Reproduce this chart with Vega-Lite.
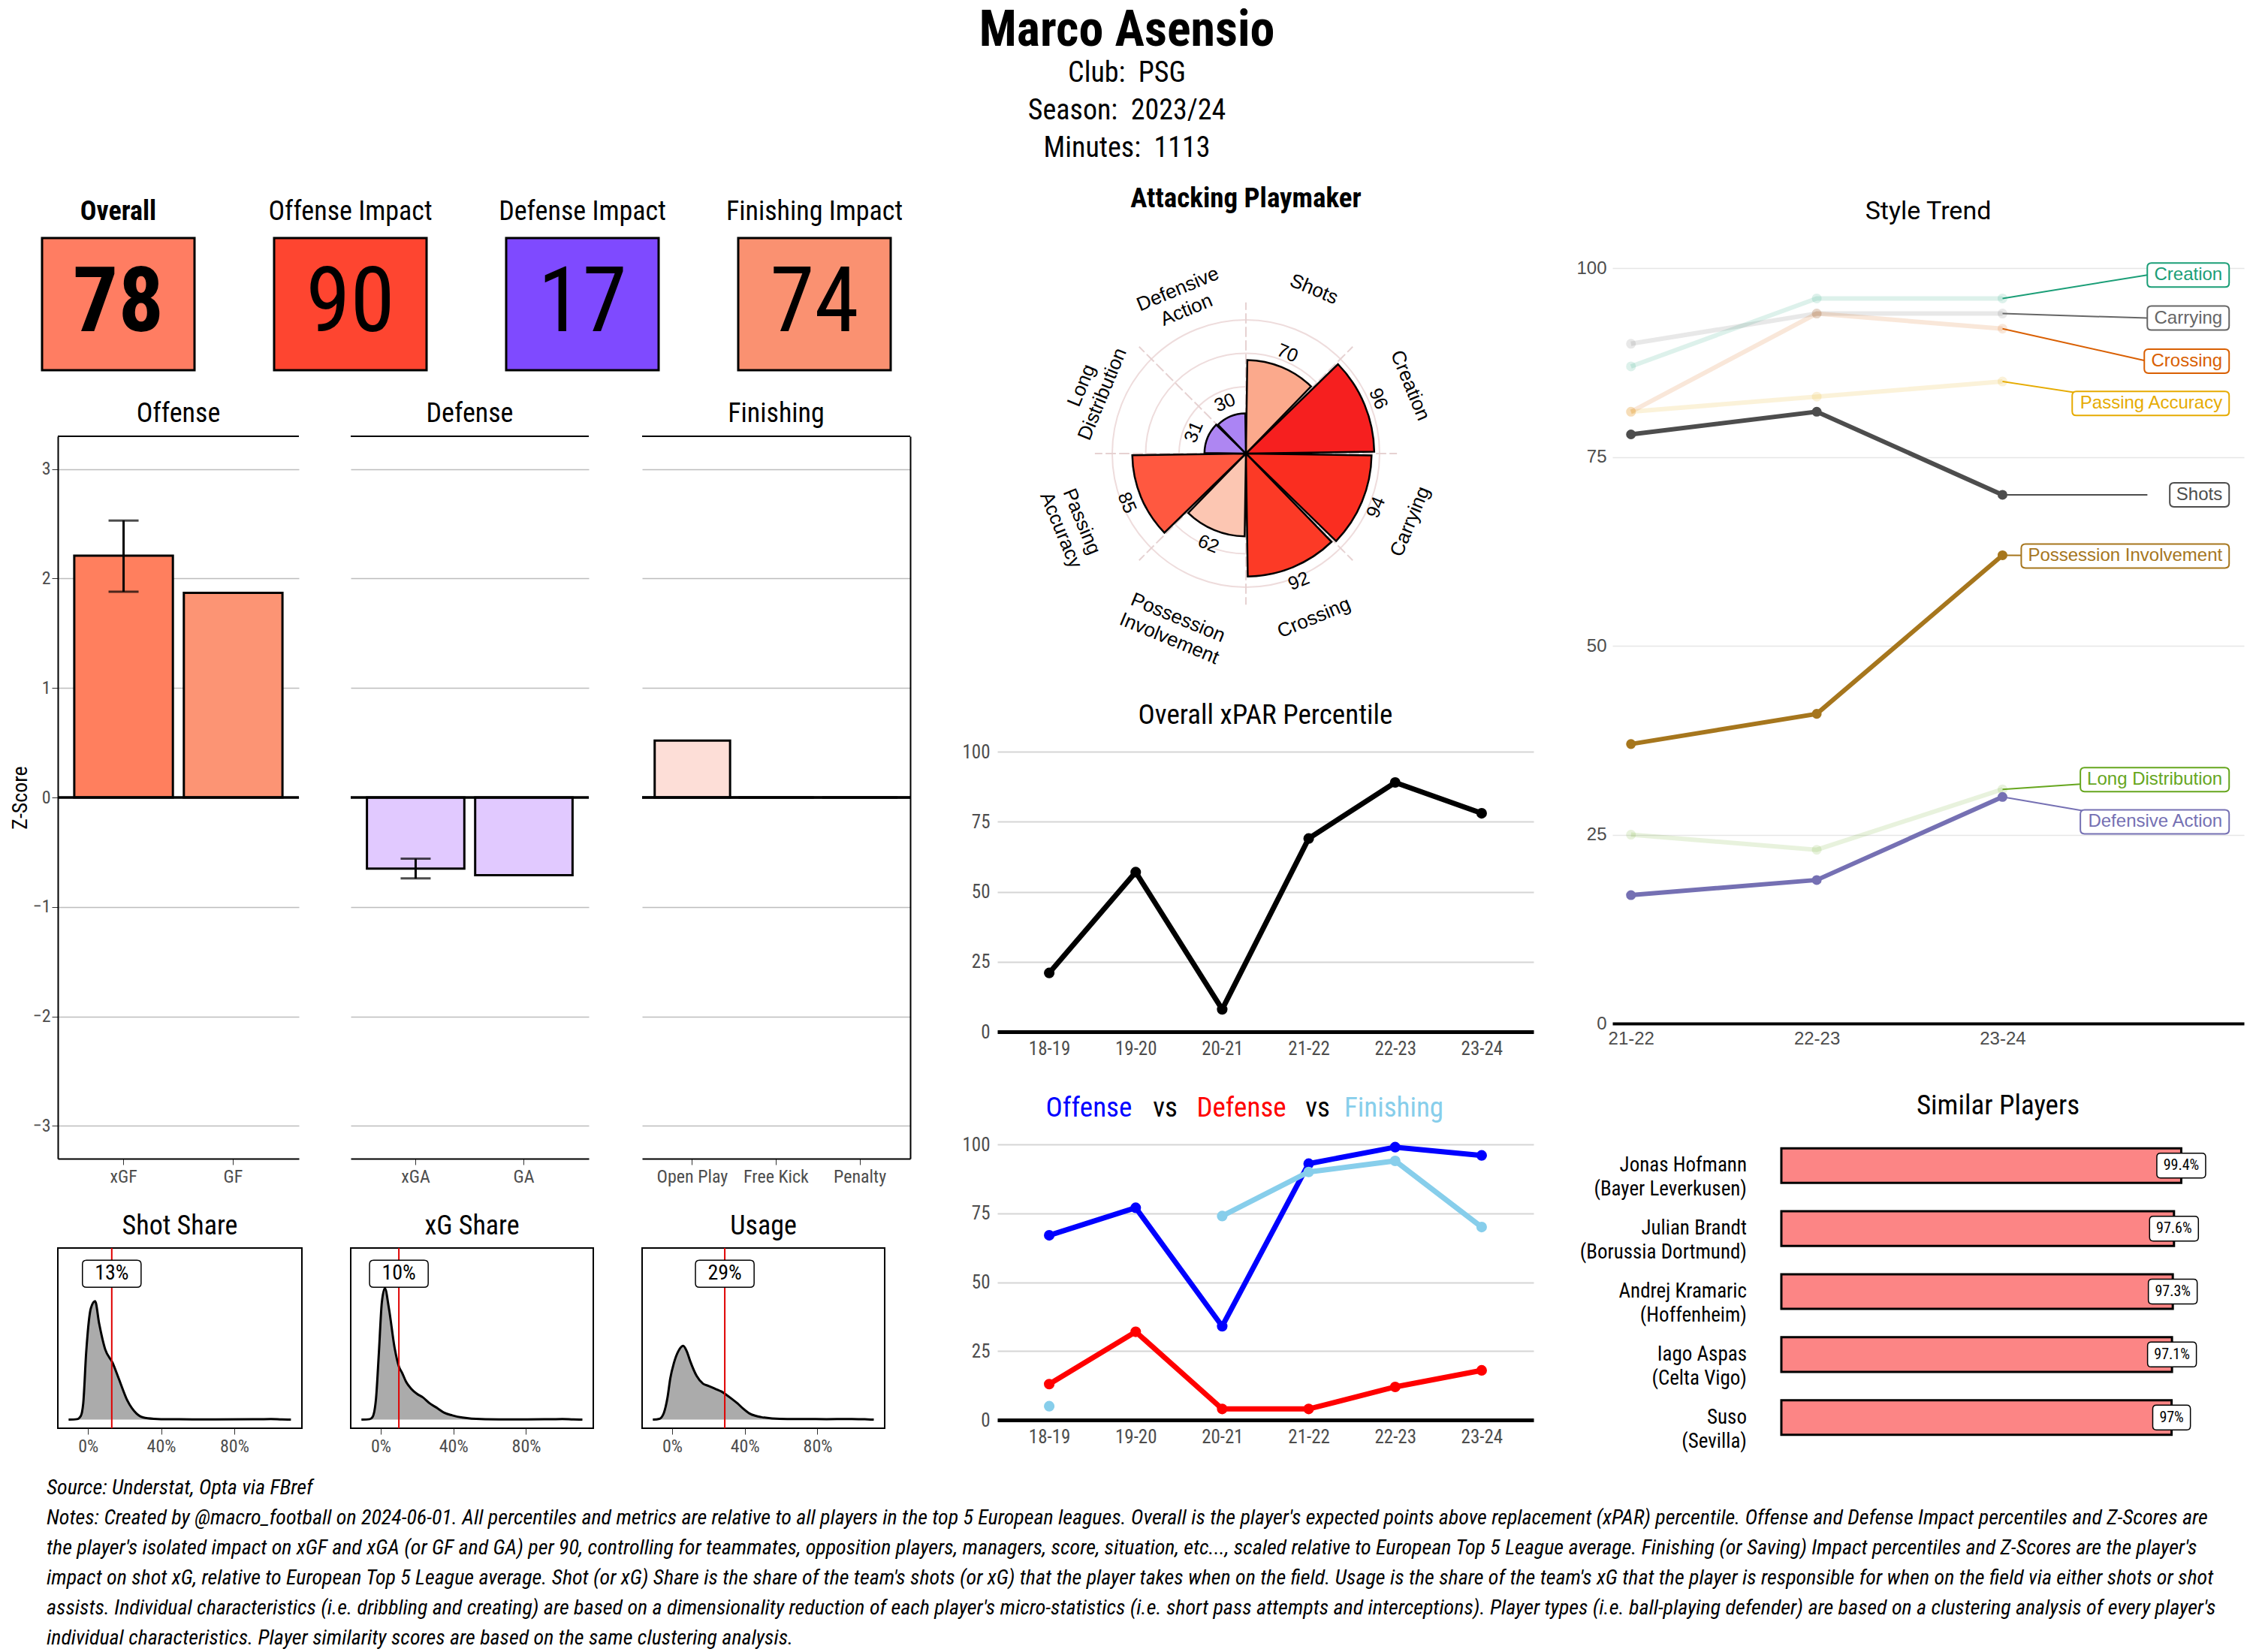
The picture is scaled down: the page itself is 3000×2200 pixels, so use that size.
{
  "$schema": "https://vega.github.io/schema/vega-lite/v6.json",
  "background": "white",
  "padding": {"left": 13, "top": 8, "right": 4, "bottom": 0},
  "title": {
    "text": "Marco Asensio",
    "subtitle": ["Club: \u00a0PSG", "Season: \u00a02023/24", "Minutes: \u00a01113"],
    "anchor": "middle", "fontSize": 66, "fontWeight": "bold", "color": "black",
    "subtitleFontSize": 38, "subtitleColor": "black", "subtitleLineHeight": 50, "subtitlePadding": 4,
    "offset": 28
  },
  "datasets": {
    "kpi": [
      {"metric": "Overall", "value": 78},
      {"metric": "Offense Impact", "value": 90},
      {"metric": "Defense Impact", "value": 17},
      {"metric": "Finishing Impact", "value": 74}
    ],
    "zs": [
      {"panel": "Offense", "metric": "xGF", "z": 2.21, "lo": 1.88, "hi": 2.53},
      {"panel": "Offense", "metric": "GF", "z": 1.87},
      {"panel": "Defense", "metric": "xGA", "z": -0.65, "lo": -0.74, "hi": -0.56},
      {"panel": "Defense", "metric": "GA", "z": -0.71},
      {"panel": "Finishing", "metric": "Open Play", "z": 0.52},
      {"panel": "Finishing", "metric": "Free Kick", "z": 0},
      {"panel": "Finishing", "metric": "Penalty", "z": 0}
    ],
    "dens": [
      {"panel": "Shot Share", "x": -0.106, "d": 0}, {"panel": "Shot Share", "x": -0.06, "d": 0.3}, {"panel": "Shot Share", "x": -0.04, "d": 2},
      {"panel": "Shot Share", "x": -0.026, "d": 9.5}, {"panel": "Shot Share", "x": -0.01, "d": 39}, {"panel": "Shot Share", "x": 0.016, "d": 65},
      {"panel": "Shot Share", "x": 0.039, "d": 69}, {"panel": "Shot Share", "x": 0.061, "d": 56}, {"panel": "Shot Share", "x": 0.094, "d": 41},
      {"panel": "Shot Share", "x": 0.135, "d": 33}, {"panel": "Shot Share", "x": 0.168, "d": 24}, {"panel": "Shot Share", "x": 0.216, "d": 11},
      {"panel": "Shot Share", "x": 0.265, "d": 3.6}, {"panel": "Shot Share", "x": 0.313, "d": 1}, {"panel": "Shot Share", "x": 0.38, "d": 0.4},
      {"panel": "Shot Share", "x": 0.5, "d": 0.2}, {"panel": "Shot Share", "x": 0.7, "d": 0.1}, {"panel": "Shot Share", "x": 0.9, "d": 0.2},
      {"panel": "Shot Share", "x": 1.0, "d": 0.4}, {"panel": "Shot Share", "x": 1.06, "d": 0.1}, {"panel": "Shot Share", "x": 1.11, "d": 0},
      {"panel": "xG Share", "x": -0.106, "d": 0}, {"panel": "xG Share", "x": -0.06, "d": 0.3}, {"panel": "xG Share", "x": -0.045, "d": 1.5},
      {"panel": "xG Share", "x": -0.026, "d": 12}, {"panel": "xG Share", "x": -0.01, "d": 39}, {"panel": "xG Share", "x": 0.006, "d": 68},
      {"panel": "xG Share", "x": 0.023, "d": 76.6}, {"panel": "xG Share", "x": 0.045, "d": 65}, {"panel": "xG Share", "x": 0.077, "d": 41.6},
      {"panel": "xG Share", "x": 0.1, "d": 31}, {"panel": "xG Share", "x": 0.119, "d": 27}, {"panel": "xG Share", "x": 0.14, "d": 22},
      {"panel": "xG Share", "x": 0.168, "d": 18}, {"panel": "xG Share", "x": 0.2, "d": 15}, {"panel": "xG Share", "x": 0.232, "d": 13},
      {"panel": "xG Share", "x": 0.27, "d": 9.5}, {"panel": "xG Share", "x": 0.313, "d": 6.6}, {"panel": "xG Share", "x": 0.35, "d": 4},
      {"panel": "xG Share", "x": 0.394, "d": 2.5}, {"panel": "xG Share", "x": 0.45, "d": 1.2}, {"panel": "xG Share", "x": 0.5, "d": 0.6},
      {"panel": "xG Share", "x": 0.65, "d": 0.1}, {"panel": "xG Share", "x": 0.9, "d": 0.2}, {"panel": "xG Share", "x": 1.0, "d": 0.4},
      {"panel": "xG Share", "x": 1.06, "d": 0.1}, {"panel": "xG Share", "x": 1.11, "d": 0},
      {"panel": "Usage", "x": -0.106, "d": 0}, {"panel": "Usage", "x": -0.07, "d": 0.5}, {"panel": "Usage", "x": -0.045, "d": 4},
      {"panel": "Usage", "x": -0.025, "d": 13}, {"panel": "Usage", "x": -0.01, "d": 24}, {"panel": "Usage", "x": 0.01, "d": 33},
      {"panel": "Usage", "x": 0.035, "d": 40}, {"panel": "Usage", "x": 0.061, "d": 43}, {"panel": "Usage", "x": 0.08, "d": 40},
      {"panel": "Usage", "x": 0.1, "d": 34}, {"panel": "Usage", "x": 0.135, "d": 25.5}, {"panel": "Usage", "x": 0.17, "d": 21},
      {"panel": "Usage", "x": 0.2, "d": 19.7}, {"panel": "Usage", "x": 0.248, "d": 17.5}, {"panel": "Usage", "x": 0.27, "d": 16.5},
      {"panel": "Usage", "x": 0.297, "d": 14.6}, {"panel": "Usage", "x": 0.33, "d": 12}, {"panel": "Usage", "x": 0.36, "d": 9.5},
      {"panel": "Usage", "x": 0.39, "d": 6.5}, {"panel": "Usage", "x": 0.426, "d": 3.6}, {"panel": "Usage", "x": 0.46, "d": 2.2},
      {"panel": "Usage", "x": 0.49, "d": 1.5}, {"panel": "Usage", "x": 0.55, "d": 0.7}, {"panel": "Usage", "x": 0.635, "d": 0.4},
      {"panel": "Usage", "x": 0.73, "d": 0.4}, {"panel": "Usage", "x": 0.85, "d": 0.3}, {"panel": "Usage", "x": 0.99, "d": 0.4},
      {"panel": "Usage", "x": 1.06, "d": 0.2}, {"panel": "Usage", "x": 1.11, "d": 0}
    ],
    "share": [
      {"panel": "Shot Share", "val": 0.13, "label": "13%"},
      {"panel": "xG Share", "val": 0.10, "label": "10%"},
      {"panel": "Usage", "val": 0.29, "label": "29%"}
    ],
    "polar": [
      {"idx": 0, "cat": "Shots", "label": "Shots", "value": 70, "w": 1},
      {"idx": 1, "cat": "Creation", "label": "Creation", "value": 96, "w": 1},
      {"idx": 2, "cat": "Carrying", "label": "Carrying", "value": 94, "w": 1},
      {"idx": 3, "cat": "Crossing", "label": "Crossing", "value": 92, "w": 1},
      {"idx": 4, "cat": "Possession Involvement", "label": "Possession\nInvolvement", "value": 62, "w": 1},
      {"idx": 5, "cat": "Passing Accuracy", "label": "Passing\nAccuracy", "value": 85, "w": 1},
      {"idx": 6, "cat": "Long Distribution", "label": "Long\nDistribution", "value": 31, "w": 1},
      {"idx": 7, "cat": "Defensive Action", "label": "Defensive\nAction", "value": 30, "w": 1}
    ],
    "rings": [{"r": 25}, {"r": 50}, {"r": 75}, {"r": 100}],
    "spokes": [{"s": 0}, {"s": 1}, {"s": 2}, {"s": 3}, {"s": 4}, {"s": 5}, {"s": 6}, {"s": 7}],
    "xpar": [
      {"season": "18-19", "value": 21}, {"season": "19-20", "value": 57}, {"season": "20-21", "value": 8},
      {"season": "21-22", "value": 69}, {"season": "22-23", "value": 89}, {"season": "23-24", "value": 78}
    ],
    "ovd": [
      {"series": "Offense", "seg": 1, "season": "18-19", "value": 67}, {"series": "Offense", "seg": 1, "season": "19-20", "value": 77},
      {"series": "Offense", "seg": 1, "season": "20-21", "value": 34}, {"series": "Offense", "seg": 1, "season": "21-22", "value": 93},
      {"series": "Offense", "seg": 1, "season": "22-23", "value": 99}, {"series": "Offense", "seg": 1, "season": "23-24", "value": 96},
      {"series": "Defense", "seg": 1, "season": "18-19", "value": 13}, {"series": "Defense", "seg": 1, "season": "19-20", "value": 32},
      {"series": "Defense", "seg": 1, "season": "20-21", "value": 4}, {"series": "Defense", "seg": 1, "season": "21-22", "value": 4},
      {"series": "Defense", "seg": 1, "season": "22-23", "value": 12}, {"series": "Defense", "seg": 1, "season": "23-24", "value": 18},
      {"series": "Finishing", "seg": 1, "season": "18-19", "value": 5},
      {"series": "Finishing", "seg": 2, "season": "20-21", "value": 74}, {"series": "Finishing", "seg": 2, "season": "21-22", "value": 90},
      {"series": "Finishing", "seg": 2, "season": "22-23", "value": 94}, {"series": "Finishing", "seg": 2, "season": "23-24", "value": 70}
    ],
    "ovdtitle": [
      {"k": "Offense", "word": "Offense"}, {"k": "vs1", "word": "vs"}, {"k": "Defense", "word": "Defense"},
      {"k": "vs2", "word": "vs"}, {"k": "Finishing", "word": "Finishing"}
    ],
    "style": [
      {"metric": "Creation", "year": 2021, "value": 87}, {"metric": "Creation", "year": 2022, "value": 96}, {"metric": "Creation", "year": 2023, "value": 96},
      {"metric": "Carrying", "year": 2021, "value": 90}, {"metric": "Carrying", "year": 2022, "value": 94}, {"metric": "Carrying", "year": 2023, "value": 94},
      {"metric": "Crossing", "year": 2021, "value": 81}, {"metric": "Crossing", "year": 2022, "value": 94}, {"metric": "Crossing", "year": 2023, "value": 92},
      {"metric": "Passing Accuracy", "year": 2021, "value": 81}, {"metric": "Passing Accuracy", "year": 2022, "value": 83}, {"metric": "Passing Accuracy", "year": 2023, "value": 85},
      {"metric": "Shots", "year": 2021, "value": 78}, {"metric": "Shots", "year": 2022, "value": 81}, {"metric": "Shots", "year": 2023, "value": 70},
      {"metric": "Possession Involvement", "year": 2021, "value": 37}, {"metric": "Possession Involvement", "year": 2022, "value": 41}, {"metric": "Possession Involvement", "year": 2023, "value": 62},
      {"metric": "Long Distribution", "year": 2021, "value": 25}, {"metric": "Long Distribution", "year": 2022, "value": 23}, {"metric": "Long Distribution", "year": 2023, "value": 31},
      {"metric": "Defensive Action", "year": 2021, "value": 17}, {"metric": "Defensive Action", "year": 2022, "value": 19}, {"metric": "Defensive Action", "year": 2023, "value": 30}
    ],
    "stylelab": [
      {"metric": "Creation", "last": 96, "labelY": 99.1},
      {"metric": "Carrying", "last": 94, "labelY": 93.4},
      {"metric": "Crossing", "last": 92, "labelY": 87.7},
      {"metric": "Passing Accuracy", "last": 85, "labelY": 82.1},
      {"metric": "Shots", "last": 70, "labelY": 70},
      {"metric": "Possession Involvement", "last": 62, "labelY": 61.9},
      {"metric": "Long Distribution", "last": 31, "labelY": 32.3},
      {"metric": "Defensive Action", "last": 30, "labelY": 26.7}
    ],
    "similar": [
      {"name": "Jonas Hofmann\n(Bayer Leverkusen)", "sim": 99.4, "lbl": "99.4%"},
      {"name": "Julian Brandt\n(Borussia Dortmund)", "sim": 97.6, "lbl": "97.6%"},
      {"name": "Andrej Kramaric\n(Hoffenheim)", "sim": 97.3, "lbl": "97.3%"},
      {"name": "Iago Aspas\n(Celta Vigo)", "sim": 97.1, "lbl": "97.1%"},
      {"name": "Suso\n(Sevilla)", "sim": 97, "lbl": "97%"}
    ],
    "notes": [
      {"i": 0, "t": "Source: Understat, Opta via FBref"},
      {"i": 1, "t": "Notes: Created by @macro_football on 2024-06-01. All percentiles and metrics are relative to all players in the top 5 European leagues. Overall is the player's expected points above replacement (xPAR) percentile. Offense and Defense Impact percentiles and Z-Scores are"},
      {"i": 2, "t": "the player's isolated impact on xGF and xGA (or GF and GA) per 90, controlling for teammates, opposition players, managers, score, situation, etc..., scaled relative to European Top 5 League average. Finishing (or Saving) Impact percentiles and Z-Scores are the player's"},
      {"i": 3, "t": "impact on shot xG, relative to European Top 5 League average. Shot (or xG) Share is the share of the team's shots (or xG) that the player takes when on the field. Usage is the share of the team's xG that the player is responsible for when on the field via either shots or shot"},
      {"i": 4, "t": "assists. Individual characteristics (i.e. dribbling and creating) are based on a dimensionality reduction of each player's micro-statistics (i.e. short pass attempts and interceptions). Player types (i.e. ball-playing defender) are based on a clustering analysis of every player's"},
      {"i": 5, "t": "individual characteristics. Player similarity scores are based on the same clustering analysis."}
    ]
  },
  "concat": [
    {
      "concat": [
        {
          "concat": [
            {
              "width": 1147, "height": 176,
              "data": {"name": "kpi"},
              "layer": [
                {
                  "mark": {"type": "rect", "stroke": "black", "strokeWidth": 3},
                  "encoding": {
                    "x": {"field": "metric", "type": "nominal", "sort": null,
                      "scale": {"range": [-21, 1109], "paddingInner": 0.343, "paddingOuter": 0},
                      "axis": {"orient": "top", "title": null, "domain": false, "ticks": false, "labelAngle": 0, "labelFontSize": 36, "labelColor": "black", "labelPadding": 17, "labelLimit": 0,
                        "labelFontWeight": {"condition": {"test": "datum.value === 'Overall'", "value": "bold"}, "value": "normal"}}},
                    "color": {"field": "metric", "type": "nominal", "scale": {"domain": ["Overall", "Offense Impact", "Defense Impact", "Finishing Impact"], "range": ["#FF7D62", "#FE4530", "#7F4AFF", "#FA9171"]}, "legend": null}
                  }
                },
                {
                  "transform": [{"filter": "datum.metric === 'Overall'"}],
                  "mark": {"type": "text", "fontSize": 120, "fontWeight": "bold", "color": "black"},
                  "encoding": {"x": {"field": "metric", "type": "nominal", "sort": null}, "text": {"field": "value"}}
                },
                {
                  "transform": [{"filter": "datum.metric !== 'Overall'"}],
                  "mark": {"type": "text", "fontSize": 120, "color": "black"},
                  "encoding": {"x": {"field": "metric", "type": "nominal", "sort": null}, "text": {"field": "value"}}
                }
              ]
            },
            {
              "columns": 3,
              "align": "each",
              "spacing": {"row": 35, "column": 62},
              "resolve": {"scale": {"color": "independent"}},
              "concat": [
                {
                  "width": 321, "height": 962,
                  "title": {"text": "Offense", "offset": 10},
                  "data": {"name": "zs"},
                  "transform": [{"filter": "datum.panel === 'Offense'"}],
                  "layer": [
                    {
                      "mark": {"type": "bar", "stroke": "black", "strokeWidth": 3},
                      "encoding": {
                        "x": {"field": "metric", "type": "nominal", "sort": null, "scale": {"paddingInner": 0.1, "paddingOuter": 0.15},
                          "axis": {"title": null, "labelAngle": 0, "labelFontSize": 24, "tickSize": 8, "domainWidth": 2, "labelPadding": 4}},
                        "y": {"field": "z", "type": "quantitative", "scale": {"domain": [-3.3, 3.3], "nice": false},
                          "axis": {"values": [-3, -2, -1, 0, 1, 2, 3], "format": "d", "title": "Z-Score", "titleFontSize": 28, "titlePadding": 2, "labelFontSize": 24, "tickSize": 8, "domainWidth": 2, "grid": true, "gridColor": "#BDBDBD", "gridWidth": 1.5}},
                        "color": {"field": "metric", "type": "nominal", "scale": {"domain": ["xGF", "GF"], "range": ["#FF7F5E", "#FC9474"]}, "legend": null}
                      }
                    },
                    {"mark": {"type": "rule", "color": "black", "strokeWidth": 3}, "encoding": {"y": {"datum": 0}}},
                    {"mark": {"type": "rule", "color": "black", "strokeWidth": 2}, "encoding": {"y": {"datum": 3.3}}},
                    {
                      "transform": [{"filter": "isValid(datum.lo)"}],
                      "mark": {"type": "rule", "color": "black", "strokeWidth": 3},
                      "encoding": {"x": {"field": "metric", "type": "nominal", "sort": null}, "y": {"field": "lo", "type": "quantitative"}, "y2": {"field": "hi"}}
                    },
                    {
                      "transform": [{"filter": "isValid(datum.lo)"}],
                      "mark": {"type": "tick", "color": "black", "thickness": 3, "size": 40, "orient": "horizontal"},
                      "encoding": {"x": {"field": "metric", "type": "nominal", "sort": null}, "y": {"field": "lo", "type": "quantitative"}}
                    },
                    {
                      "transform": [{"filter": "isValid(datum.lo)"}],
                      "mark": {"type": "tick", "color": "black", "thickness": 3, "size": 40, "orient": "horizontal"},
                      "encoding": {"x": {"field": "metric", "type": "nominal", "sort": null}, "y": {"field": "hi", "type": "quantitative"}}
                    }
                  ]
                },
                {
                  "width": 317, "height": 962,
                  "title": {"text": "Defense", "offset": 10},
                  "data": {"name": "zs"},
                  "transform": [{"filter": "datum.panel === 'Defense'"}],
                  "layer": [
                    {
                      "mark": {"type": "bar", "stroke": "black", "strokeWidth": 3},
                      "encoding": {
                        "x": {"field": "metric", "type": "nominal", "sort": null, "scale": {"paddingInner": 0.1, "paddingOuter": 0.15},
                          "axis": {"title": null, "labelAngle": 0, "labelFontSize": 24, "tickSize": 8, "domainWidth": 2, "labelPadding": 4}},
                        "y": {"field": "z", "type": "quantitative", "scale": {"domain": [-3.3, 3.3], "nice": false},
                          "axis": {"values": [-3, -2, -1, 0, 1, 2, 3], "title": null, "labels": false, "ticks": false, "domain": false, "grid": true, "gridColor": "#BDBDBD", "gridWidth": 1.5}},
                        "color": {"field": "metric", "type": "nominal", "scale": {"domain": ["xGA", "GA"], "range": ["#E1C9FF", "#E1C9FF"]}, "legend": null}
                      }
                    },
                    {"mark": {"type": "rule", "color": "black", "strokeWidth": 3}, "encoding": {"y": {"datum": 0}}},
                    {"mark": {"type": "rule", "color": "black", "strokeWidth": 2}, "encoding": {"y": {"datum": 3.3}}},
                    {
                      "transform": [{"filter": "isValid(datum.lo)"}],
                      "mark": {"type": "rule", "color": "black", "strokeWidth": 3},
                      "encoding": {"x": {"field": "metric", "type": "nominal", "sort": null}, "y": {"field": "lo", "type": "quantitative"}, "y2": {"field": "hi"}}
                    },
                    {
                      "transform": [{"filter": "isValid(datum.lo)"}],
                      "mark": {"type": "tick", "color": "black", "thickness": 3, "size": 40, "orient": "horizontal"},
                      "encoding": {"x": {"field": "metric", "type": "nominal", "sort": null}, "y": {"field": "lo", "type": "quantitative"}}
                    },
                    {
                      "transform": [{"filter": "isValid(datum.lo)"}],
                      "mark": {"type": "tick", "color": "black", "thickness": 3, "size": 40, "orient": "horizontal"},
                      "encoding": {"x": {"field": "metric", "type": "nominal", "sort": null}, "y": {"field": "hi", "type": "quantitative"}}
                    }
                  ]
                },
                {
                  "width": 357, "height": 962,
                  "title": {"text": "Finishing", "offset": 10},
                  "data": {"name": "zs"},
                  "transform": [{"filter": "datum.panel === 'Finishing'"}],
                  "layer": [
                    {
                      "mark": {"type": "bar", "stroke": "black", "strokeWidth": 3},
                      "encoding": {
                        "x": {"field": "metric", "type": "nominal", "sort": null, "scale": {"paddingInner": 0.1, "paddingOuter": 0.15},
                          "axis": {"title": null, "labelAngle": 0, "labelFontSize": 24, "tickSize": 8, "domainWidth": 2, "labelPadding": 4}},
                        "y": {"field": "z", "type": "quantitative", "scale": {"domain": [-3.3, 3.3], "nice": false},
                          "axis": {"orient": "right", "values": [-3, -2, -1, 0, 1, 2, 3], "title": null, "labels": false, "ticks": false, "domain": true, "domainWidth": 2, "grid": true, "gridColor": "#BDBDBD", "gridWidth": 1.5}},
                        "color": {"field": "metric", "type": "nominal", "scale": {"domain": ["Open Play", "Free Kick", "Penalty"], "range": ["#FDDED7", "#FDDED7", "#FDDED7"]}, "legend": null}
                      }
                    },
                    {"mark": {"type": "rule", "color": "black", "strokeWidth": 3}, "encoding": {"y": {"datum": 0}}},
                    {"mark": {"type": "rule", "color": "black", "strokeWidth": 2}, "encoding": {"y": {"datum": 3.3}}}
                  ]
                },
                {
                  "width": 325, "height": 240,
                  "title": {"text": "Shot Share", "offset": 9},
                  "view": {"stroke": "black", "strokeWidth": 2},
                  "layer": [
                    {
                      "data": {"name": "dens"},
                      "transform": [{"filter": "datum.panel === 'Shot Share'"}],
                      "mark": {"type": "area", "color": "#ABABAB", "opacity": 1, "interpolate": "monotone", "line": {"color": "black", "strokeWidth": 3}},
                      "encoding": {
                        "x": {"field": "x", "type": "quantitative", "scale": {"domain": [-0.165, 1.17], "nice": false, "zero": false},
                          "axis": {"values": [0, 0.4, 0.8], "format": ".0%", "title": null, "grid": false, "domain": false, "labelFontSize": 24, "tickSize": 8, "labelPadding": 4}},
                        "y": {"field": "d", "type": "quantitative", "scale": {"domain": [-5, 100], "nice": false}, "axis": null}
                      }
                    },
                    {
                      "data": {"name": "share"},
                      "transform": [{"filter": "datum.panel === 'Shot Share'"}],
                      "layer": [
                        {"mark": {"type": "rule", "color": "#E00000", "strokeWidth": 2}, "encoding": {"x": {"field": "val", "type": "quantitative"}}},
                        {"mark": {"type": "point", "shape": "M-1.87,-1L1.87,-1Q2.17,-1 2.17,-0.7L2.17,0.7Q2.17,1 1.87,1L-1.87,1Q-2.17,1 -2.17,0.7L-2.17,-0.7Q-2.17,-1 -1.87,-1Z", "size": 1296, "filled": true, "fill": "white", "stroke": "black", "strokeWidth": 1.5, "opacity": 1},
                          "encoding": {"x": {"field": "val", "type": "quantitative"}, "y": {"datum": 85}}},
                        {"mark": {"type": "text", "fontSize": 28, "color": "black"}, "encoding": {"x": {"field": "val", "type": "quantitative"}, "y": {"datum": 85}, "text": {"field": "label"}}}
                      ]
                    }
                  ]
                },
                {
                  "width": 323, "height": 240,
                  "title": {"text": "xG Share", "offset": 9},
                  "view": {"stroke": "black", "strokeWidth": 2},
                  "layer": [
                    {
                      "data": {"name": "dens"},
                      "transform": [{"filter": "datum.panel === 'xG Share'"}],
                      "mark": {"type": "area", "color": "#ABABAB", "opacity": 1, "interpolate": "monotone", "line": {"color": "black", "strokeWidth": 3}},
                      "encoding": {
                        "x": {"field": "x", "type": "quantitative", "scale": {"domain": [-0.165, 1.17], "nice": false, "zero": false},
                          "axis": {"values": [0, 0.4, 0.8], "format": ".0%", "title": null, "grid": false, "domain": false, "labelFontSize": 24, "tickSize": 8, "labelPadding": 4}},
                        "y": {"field": "d", "type": "quantitative", "scale": {"domain": [-5, 100], "nice": false}, "axis": null}
                      }
                    },
                    {
                      "data": {"name": "share"},
                      "transform": [{"filter": "datum.panel === 'xG Share'"}],
                      "layer": [
                        {"mark": {"type": "rule", "color": "#E00000", "strokeWidth": 2}, "encoding": {"x": {"field": "val", "type": "quantitative"}}},
                        {"mark": {"type": "point", "shape": "M-1.87,-1L1.87,-1Q2.17,-1 2.17,-0.7L2.17,0.7Q2.17,1 1.87,1L-1.87,1Q-2.17,1 -2.17,0.7L-2.17,-0.7Q-2.17,-1 -1.87,-1Z", "size": 1296, "filled": true, "fill": "white", "stroke": "black", "strokeWidth": 1.5, "opacity": 1},
                          "encoding": {"x": {"field": "val", "type": "quantitative"}, "y": {"datum": 85}}},
                        {"mark": {"type": "text", "fontSize": 28, "color": "black"}, "encoding": {"x": {"field": "val", "type": "quantitative"}, "y": {"datum": 85}, "text": {"field": "label"}}}
                      ]
                    }
                  ]
                },
                {
                  "width": 323, "height": 240,
                  "title": {"text": "Usage", "offset": 9},
                  "view": {"stroke": "black", "strokeWidth": 2},
                  "layer": [
                    {
                      "data": {"name": "dens"},
                      "transform": [{"filter": "datum.panel === 'Usage'"}],
                      "mark": {"type": "area", "color": "#ABABAB", "opacity": 1, "interpolate": "monotone", "line": {"color": "black", "strokeWidth": 3}},
                      "encoding": {
                        "x": {"field": "x", "type": "quantitative", "scale": {"domain": [-0.165, 1.17], "nice": false, "zero": false},
                          "axis": {"values": [0, 0.4, 0.8], "format": ".0%", "title": null, "grid": false, "domain": false, "labelFontSize": 24, "tickSize": 8, "labelPadding": 4}},
                        "y": {"field": "d", "type": "quantitative", "scale": {"domain": [-5, 100], "nice": false}, "axis": null}
                      }
                    },
                    {
                      "data": {"name": "share"},
                      "transform": [{"filter": "datum.panel === 'Usage'"}],
                      "layer": [
                        {"mark": {"type": "rule", "color": "#E00000", "strokeWidth": 2}, "encoding": {"x": {"field": "val", "type": "quantitative"}}},
                        {"mark": {"type": "point", "shape": "M-1.87,-1L1.87,-1Q2.17,-1 2.17,-0.7L2.17,0.7Q2.17,1 1.87,1L-1.87,1Q-2.17,1 -2.17,0.7L-2.17,-0.7Q-2.17,-1 -1.87,-1Z", "size": 1296, "filled": true, "fill": "white", "stroke": "black", "strokeWidth": 1.5, "opacity": 1},
                          "encoding": {"x": {"field": "val", "type": "quantitative"}, "y": {"datum": 85}}},
                        {"mark": {"type": "text", "fontSize": 28, "color": "black"}, "encoding": {"x": {"field": "val", "type": "quantitative"}, "y": {"datum": 85}, "text": {"field": "label"}}}
                      ]
                    }
                  ]
                }
              ]
            }
          ],
          "columns": 1,
          "spacing": 38,
          "resolve": {"scale": {"color": "independent"}}
        },
        {
          "vconcat": [
            {
              "vconcat": [
                {
                  "width": 662, "height": 574,
                  "title": {"text": "Attacking Playmaker", "fontWeight": "bold", "fontSize": 37, "offset": 33},
                  "layer": [
                    {
                      "data": {"name": "rings"},
                      "mark": {"type": "arc", "theta": 0, "theta2": 6.2832, "filled": false, "stroke": "#EEDCDC", "strokeWidth": 2},
                      "encoding": {"radius": {"field": "r", "type": "quantitative", "stack": null, "scale": {"type": "linear", "domain": [0, 100], "range": [0, 178], "nice": false, "zero": true}}}
                    },
                    {
                      "data": {"name": "spokes"},
                      "mark": {"type": "arc", "filled": false, "stroke": "#E6D2D2", "strokeWidth": 2, "strokeDash": [10, 8]},
                      "encoding": {
                        "theta": {"field": "s", "type": "quantitative", "stack": null, "scale": {"domain": [0, 8], "range": [0, 6.2832], "nice": false, "zero": true}},
                        "theta2": {"field": "s"},
                        "radius": {"datum": 113}
                      }
                    },
                    {
                      "data": {"name": "polar"},
                      "transform": [{"stack": "w", "groupby": [], "sort": [{"field": "idx", "order": "ascending"}], "as": ["w0", "w1"]}],
                      "mark": {"type": "arc", "stroke": "black", "strokeWidth": 2.5, "padAngle": 0.03},
                      "encoding": {
                        "theta": {"field": "w0", "type": "quantitative", "stack": null},
                        "theta2": {"field": "w1"},
                        "radius": {"field": "value", "type": "quantitative", "stack": null},
                        "color": {"field": "cat", "type": "nominal", "scale": {"domain": ["Shots", "Creation", "Carrying", "Crossing", "Possession Involvement", "Passing Accuracy", "Long Distribution", "Defensive Action"], "range": ["#FBA98C", "#F61F1F", "#FA2D20", "#FC3A26", "#FCC6B2", "#FF5840", "#AE86F2", "#AB84F4"]}, "legend": null}
                      }
                    },
                    {
                      "data": {"name": "polar"},
                      "transform": [{"stack": "w", "groupby": [], "sort": [{"field": "idx", "order": "ascending"}], "as": ["w0", "w1"]}],
                      "mark": {"type": "text", "font": "Liberation Sans, Arial, sans-serif", "fontSize": 25, "radiusOffset": 20, "thetaOffset": 0.3927, "color": "black"},
                      "encoding": {
                        "theta": {"field": "w0", "type": "quantitative", "stack": null},
                        "radius": {"field": "value", "type": "quantitative", "stack": null},
                        "text": {"field": "value"},
                        "angle": {"field": "cat", "type": "nominal", "scale": {"type": "ordinal", "domain": ["Shots", "Creation", "Carrying", "Crossing", "Possession Involvement", "Passing Accuracy", "Long Distribution", "Defensive Action"], "range": [22.5, 67.5, 292.5, 337.5, 22.5, 67.5, 292.5, 337.5]}, "legend": null}
                      }
                    },
                    {
                      "data": {"name": "polar"},
                      "transform": [{"stack": "w", "groupby": [], "sort": [{"field": "idx", "order": "ascending"}], "as": ["w0", "w1"]}],
                      "mark": {"type": "text", "font": "Liberation Sans, Arial, sans-serif", "fontSize": 26, "lineBreak": "\n", "lineHeight": 30, "thetaOffset": 0.3927, "color": "black"},
                      "encoding": {
                        "theta": {"field": "w0", "type": "quantitative", "stack": null},
                        "radius": {"datum": 133},
                        "text": {"field": "label"},
                        "angle": {"field": "cat", "type": "nominal", "scale": {"type": "ordinal", "domain": ["Shots", "Creation", "Carrying", "Crossing", "Possession Involvement", "Passing Accuracy", "Long Distribution", "Defensive Action"], "range": [22.5, 67.5, 292.5, 337.5, 22.5, 67.5, 292.5, 337.5]}, "legend": null}
                      }
                    }
                  ]
                },
                {
                  "width": 714, "height": 373,
                  "title": {"text": "Overall xPAR Percentile", "fontSize": 37, "offset": 17},
                  "data": {"name": "xpar"},
                  "encoding": {
                    "x": {"field": "season", "type": "ordinal", "scale": {"type": "point", "padding": 0.6},
                      "axis": {"title": null, "labelAngle": 0, "labelFontSize": 25, "ticks": false, "domainWidth": 5, "labelPadding": 10}},
                    "y": {"field": "value", "type": "quantitative", "scale": {"domain": [0, 100], "nice": false},
                      "axis": {"title": null, "values": [0, 25, 50, 75, 100], "labelFontSize": 25, "ticks": false, "domain": false, "grid": true, "gridColor": "#D5D5D5", "gridWidth": 2, "labelPadding": 10}}
                  },
                  "layer": [
                    {"mark": {"type": "line", "color": "black", "strokeWidth": 7}},
                    {"mark": {"type": "point", "filled": true, "color": "black", "size": 200, "opacity": 1}}
                  ]
                }
              ],
              "spacing": 43,
              "resolve": {"scale": {"color": "independent"}}
            },
            {
              "width": 714, "height": 367,
              "layer": [
                {
                  "data": {"name": "ovd"},
                  "encoding": {
                    "x": {"field": "season", "type": "ordinal", "scale": {"type": "point", "padding": 0.6},
                      "axis": {"title": null, "labelAngle": 0, "labelFontSize": 25, "ticks": false, "domainWidth": 5, "labelPadding": 10}},
                    "y": {"field": "value", "type": "quantitative", "scale": {"domain": [0, 100], "nice": false},
                      "axis": {"title": null, "values": [0, 25, 50, 75, 100], "labelFontSize": 25, "ticks": false, "domain": false, "grid": true, "gridColor": "#D5D5D5", "gridWidth": 2, "labelPadding": 10}},
                    "color": {"field": "series", "type": "nominal", "scale": {"domain": ["Offense", "Defense", "Finishing", "vs1", "vs2"], "range": ["#0000FF", "#FF0000", "#87CEEB", "#000000", "#000000"]}, "legend": null}
                  },
                  "layer": [
                    {"mark": {"type": "line", "strokeWidth": 7}, "encoding": {"detail": {"field": "seg"}}},
                    {"mark": {"type": "point", "filled": true, "size": 200, "opacity": 1}}
                  ]
                },
                {
                  "data": {"name": "ovdtitle"},
                  "mark": {"type": "text", "fontSize": 37},
                  "encoding": {
                    "x": {"field": "k", "type": "nominal", "scale": {"type": "point", "domain": ["padL", "Offense", "vs1", "Defense", "vs2", "Finishing", "padR"], "padding": 0.517, "align": 0.195}, "axis": null},
                    "y": {"datum": 113},
                    "text": {"field": "word"},
                    "color": {"field": "k", "type": "nominal", "legend": null}
                  }
                }
              ],
              "resolve": {"scale": {"x": "independent"}}
            }
          ],
          "spacing": 48,
          "resolve": {"scale": {"color": "independent"}}
        },
        {
          "concat": [
            {
              "width": 841, "height": 1046,
              "title": {"text": "Style Trend", "fontSize": 34, "font": "Roboto, sans-serif", "offset": 18},
              "layer": [
                {
                  "data": {"name": "style"},
                  "transform": [{"filter": "indexof(['Creation','Carrying','Crossing','Passing Accuracy','Long Distribution'], datum.metric) >= 0"}],
                  "encoding": {
                    "x": {"field": "year", "type": "quantitative", "scale": {"domain": [2020.9, 2024.3], "nice": false, "zero": false},
                      "axis": {"values": [2021, 2022, 2023], "labelExpr": "datum.value == 2021 ? '21-22' : datum.value == 2022 ? '22-23' : '23-24'", "title": null, "grid": false, "ticks": false, "domainWidth": 4, "labelFontSize": 24, "labelFont": "Liberation Sans, Arial, sans-serif", "labelPadding": 8}},
                    "y": {"field": "value", "type": "quantitative", "scale": {"domain": [0, 104], "nice": false},
                      "axis": {"values": [0, 25, 50, 75, 100], "title": null, "ticks": false, "domain": false, "grid": true, "gridColor": "#E6E6E6", "gridWidth": 1.5, "labelFontSize": 24, "labelFont": "Liberation Sans, Arial, sans-serif", "labelPadding": 8}},
                    "color": {"field": "metric", "type": "nominal", "scale": {"domain": ["Creation", "Carrying", "Crossing", "Passing Accuracy", "Shots", "Possession Involvement", "Long Distribution", "Defensive Action"], "range": ["#1B9E77", "#666666", "#D95F02", "#E6AB02", "#4D4D4D", "#A6761D", "#66A61E", "#7570B3"]}, "legend": null}
                  },
                  "layer": [
                    {"mark": {"type": "line", "strokeWidth": 6, "opacity": 0.15}},
                    {"mark": {"type": "point", "filled": true, "size": 170, "opacity": 0.15}}
                  ]
                },
                {
                  "data": {"name": "style"},
                  "transform": [{"filter": "indexof(['Creation','Carrying','Crossing','Passing Accuracy','Long Distribution'], datum.metric) < 0"}],
                  "encoding": {
                    "x": {"field": "year", "type": "quantitative"},
                    "y": {"field": "value", "type": "quantitative"},
                    "color": {"field": "metric", "type": "nominal", "legend": null}
                  },
                  "layer": [
                    {"mark": {"type": "line", "strokeWidth": 6}},
                    {"mark": {"type": "point", "filled": true, "size": 170, "opacity": 1}}
                  ]
                },
                {
                  "data": {"name": "stylelab"},
                  "layer": [
                    {
                      "mark": {"type": "rule", "strokeWidth": 2},
                      "encoding": {"x": {"datum": 2023}, "x2": {"datum": 2023.78}, "y": {"field": "last", "type": "quantitative"}, "y2": {"field": "labelY"}, "color": {"field": "metric", "type": "nominal", "legend": null}}
                    },
                    {
                      "mark": {"type": "point", "filled": true, "fill": "white", "strokeWidth": 2, "size": 1024, "opacity": 1},
                      "encoding": {
                        "x": {"datum": 2024.22}, "y": {"field": "labelY", "type": "quantitative"},
                        "shape": {"field": "metric", "type": "nominal", "scale": {"domain": ["Creation", "Carrying", "Crossing", "Passing Accuracy", "Shots", "Possession Involvement", "Long Distribution", "Defensive Action"],
                          "range": [
                            "M-6.46,-1L-0.35,-1Q0,-1 0,-0.65L0,0.65Q0,1 -0.35,1L-6.46,1Q-6.81,1 -6.81,0.65L-6.81,-0.65Q-6.81,-1 -6.46,-1Z",
                            "M-6.46,-1L-0.35,-1Q0,-1 0,-0.65L0,0.65Q0,1 -0.35,1L-6.46,1Q-6.81,1 -6.81,0.65L-6.81,-0.65Q-6.81,-1 -6.46,-1Z",
                            "M-6.71,-1L-0.35,-1Q0,-1 0,-0.65L0,0.65Q0,1 -0.35,1L-6.71,1Q-7.06,1 -7.06,0.65L-7.06,-0.65Q-7.06,-1 -6.71,-1Z",
                            "M-12.71,-1L-0.35,-1Q0,-1 0,-0.65L0,0.65Q0,1 -0.35,1L-12.71,1Q-13.06,1 -13.06,0.65L-13.06,-0.65Q-13.06,-1 -12.71,-1Z",
                            "M-4.59,-1L-0.35,-1Q0,-1 0,-0.65L0,0.65Q0,1 -0.35,1L-4.59,1Q-4.94,1 -4.94,0.65L-4.94,-0.65Q-4.94,-1 -4.59,-1Z",
                            "M-16.95,-1L-0.35,-1Q0,-1 0,-0.65L0,0.65Q0,1 -0.35,1L-16.95,1Q-17.3,1 -17.3,0.65L-17.3,-0.65Q-17.3,-1 -16.95,-1Z",
                            "M-12.03,-1L-0.35,-1Q0,-1 0,-0.65L0,0.65Q0,1 -0.35,1L-12.03,1Q-12.38,1 -12.38,0.65L-12.38,-0.65Q-12.38,-1 -12.03,-1Z",
                            "M-12.03,-1L-0.35,-1Q0,-1 0,-0.65L0,0.65Q0,1 -0.35,1L-12.03,1Q-12.38,1 -12.38,0.65L-12.38,-0.65Q-12.38,-1 -12.03,-1Z"
                          ]}, "legend": null},
                        "stroke": {"field": "metric", "type": "nominal", "scale": {"domain": ["Creation", "Carrying", "Crossing", "Passing Accuracy", "Shots", "Possession Involvement", "Long Distribution", "Defensive Action"], "range": ["#1B9E77", "#666666", "#D95F02", "#E6AB02", "#4D4D4D", "#A6761D", "#66A61E", "#7570B3"]}, "legend": null}
                      }
                    },
                    {
                      "mark": {"type": "text", "align": "right", "dx": -9, "font": "Liberation Sans, Arial, sans-serif", "fontSize": 24},
                      "encoding": {"x": {"datum": 2024.22}, "y": {"field": "labelY", "type": "quantitative"}, "text": {"field": "metric"}, "color": {"field": "metric", "type": "nominal", "legend": null}}
                    }
                  ]
                }
              ]
            },
            {
              "width": 841, "height": 436,
              "title": {"text": "Similar Players", "fontSize": 37, "offset": 10, "dx": 93},
              "data": {"name": "similar"},
              "encoding": {"y": {"field": "name", "type": "nominal", "sort": null, "scale": {"paddingInner": 0.45, "paddingOuter": 0.325}, "axis": null}},
              "layer": [
                {"mark": {"type": "bar", "color": "#FC8585", "stroke": "black", "strokeWidth": 3},
                  "encoding": {"x": {"field": "sim", "type": "quantitative", "scale": {"domain": [-42, 115], "nice": false}, "axis": null}}},
                {"mark": {"type": "point", "filled": true, "fill": "white", "stroke": "black", "strokeWidth": 1.5, "size": 1089, "opacity": 1},
                  "encoding": {"x": {"field": "sim", "type": "quantitative"},
                    "shape": {"field": "lbl", "type": "nominal", "scale": {"domain": ["99.4%", "97.6%", "97.3%", "97.1%", "97%"], "range": [
                      "M-1.67,-1L1.67,-1Q1.97,-1 1.97,-0.7L1.97,0.7Q1.97,1 1.67,1L-1.67,1Q-1.97,1 -1.97,0.7L-1.97,-0.7Q-1.97,-1 -1.67,-1Z",
                      "M-1.67,-1L1.67,-1Q1.97,-1 1.97,-0.7L1.97,0.7Q1.97,1 1.67,1L-1.67,1Q-1.97,1 -1.97,0.7L-1.97,-0.7Q-1.97,-1 -1.67,-1Z",
                      "M-1.67,-1L1.67,-1Q1.97,-1 1.97,-0.7L1.97,0.7Q1.97,1 1.67,1L-1.67,1Q-1.97,1 -1.97,0.7L-1.97,-0.7Q-1.97,-1 -1.67,-1Z",
                      "M-1.67,-1L1.67,-1Q1.97,-1 1.97,-0.7L1.97,0.7Q1.97,1 1.67,1L-1.67,1Q-1.97,1 -1.97,0.7L-1.97,-0.7Q-1.97,-1 -1.67,-1Z",
                      "M-1.22,-1L1.22,-1Q1.52,-1 1.52,-0.7L1.52,0.7Q1.52,1 1.22,1L-1.22,1Q-1.52,1 -1.52,0.7L-1.52,-0.7Q-1.52,-1 -1.22,-1Z"
                    ]}, "legend": null}}},
                {"mark": {"type": "text", "fontSize": 20, "color": "black"}, "encoding": {"x": {"field": "sim", "type": "quantitative"}, "text": {"field": "lbl"}}},
                {"mark": {"type": "text", "align": "right", "dx": -46, "fontSize": 27, "lineBreak": "\n", "lineHeight": 32, "color": "black"},
                  "encoding": {"x": {"datum": 0}, "text": {"field": "name"}}}
              ]
            }
          ],
          "columns": 1,
          "spacing": 59,
          "resolve": {"scale": {"color": "independent", "shape": "independent", "stroke": "independent"}}
        }
      ],
      "columns": 3,
      "spacing": 56,
      "resolve": {"scale": {"color": "independent", "shape": "independent", "stroke": "independent"}}
    },
    {
      "width": 2880, "height": 240,
      "data": {"name": "notes"},
      "mark": {"type": "text", "align": "left", "fontStyle": "italic", "fontSize": 28, "dx": -15, "color": "black"},
      "encoding": {
        "x": {"datum": 0, "type": "quantitative", "scale": {"domain": [0, 1]}, "axis": null},
        "y": {"field": "i", "type": "ordinal", "scale": {"type": "point", "padding": 0.5}, "axis": null},
        "text": {"field": "t"}
      }
    }
  ],
  "columns": 1,
  "spacing": 23,
  "resolve": {"scale": {"color": "independent", "shape": "independent", "stroke": "independent"}},
  "config": {
    "font": "Roboto Condensed, Liberation Sans Narrow, Roboto, sans-serif",
    "view": {"stroke": null},
    "axis": {"labelColor": "#4D4D4D", "titleColor": "black", "titleFontWeight": "normal", "domainColor": "black", "tickColor": "#333333", "gridColor": "#D0D0D0", "labelLimit": 0},
    "title": {"fontWeight": "normal", "color": "black", "fontSize": 36}
  }
}
